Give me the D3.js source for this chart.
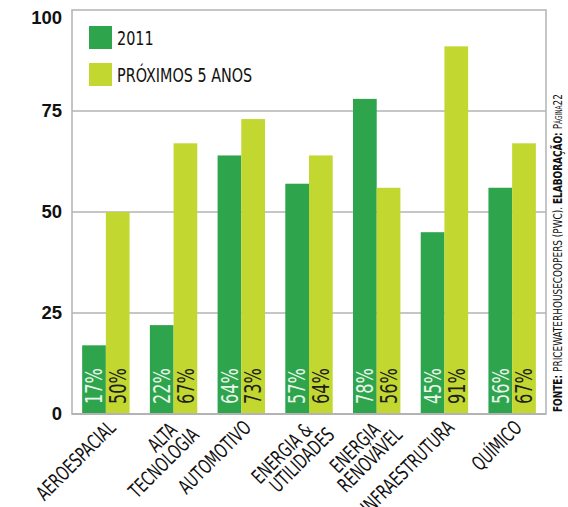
<!DOCTYPE html>
<html>
<head>
<meta charset="utf-8">
<script src="https://cdn.jsdelivr.net/npm/d3@7"></script>
<style>
  body { margin: 0; background: #fff; }
  svg { display: block; }
  .narrow { font-family: "Liberation Sans Narrow", "Arial Narrow", "DejaVu Sans Condensed", sans-serif; }
</style>
</head>
<body>
<svg id="chart" width="568" height="507"></svg>
<script>
// chart values
var categoryLines = [
  ["AEROESPACIAL"],
  ["ALTA", "TECNOLOGIA"],
  ["AUTOMOTIVO"],
  ["ENERGIA &", "UTILIDADES"],
  ["ENERGIA", "RENOVÁVEL"],
  ["INFRAESTRUTURA"],
  ["QUÍMICO"]
];
var values2011 = [17, 22, 64, 57, 78, 45, 56];
var valuesNext5 = [50, 67, 73, 64, 56, 91, 67];
var seriesNames = ["2011", "PRÓXIMOS 5 ANOS"];
var yTicks = [0, 25, 50, 75, 100];

var colors = ["#2ea44c", "#c2d730"];
var labelColors = ["#e9f5ea", "#1e1e1e"];
var gridColor = "#b3b3b3";
var squeeze = 0.76; // the original face is much narrower than what we have installed

var width = 568, height = 507;
var margin = { top: 10, right: 22, bottom: 93, left: 72 };

var svg = d3.select("#chart");

var x = d3.scaleBand()
  .domain(d3.range(categoryLines.length))
  .range([margin.left, width - margin.right])
  .paddingInner(0.3)
  .paddingOuter(0.15);

var xSub = d3.scaleBand()
  .domain([0, 1])
  .range([0, x.bandwidth()]);

var y = d3.scaleLinear()
  .domain([0, 100])
  .range([height - margin.bottom, margin.top]);

// gridlines and frame
svg.append("g")
  .selectAll("line")
  .data(yTicks.filter(function (d) { return d > 0 && d < 100; }))
  .join("line")
  .attr("x1", margin.left)
  .attr("x2", width - margin.right)
  .attr("y1", function (d) { return y(d); })
  .attr("y2", function (d) { return y(d); })
  .attr("stroke", gridColor)
  .attr("stroke-width", 1.5);

svg.append("rect")
  .attr("x", margin.left)
  .attr("y", margin.top)
  .attr("width", width - margin.left - margin.right)
  .attr("height", height - margin.top - margin.bottom)
  .attr("fill", "none")
  .attr("stroke", gridColor)
  .attr("stroke-width", 1.5);

// bars
var series = [values2011, valuesNext5];
var groups = svg.append("g")
  .selectAll("g")
  .data(categoryLines.map(function (c, i) { return i; }))
  .join("g")
  .attr("transform", function (i) { return "translate(" + x(i) + ",0)"; });

groups.selectAll("rect")
  .data(function (i) { return series.map(function (s, k) { return { k: k, v: s[i] }; }); })
  .join("rect")
  .attr("x", function (d) { return xSub(d.k); })
  .attr("y", function (d) { return y(d.v); })
  .attr("width", xSub.bandwidth())
  .attr("height", function (d) { return y(0) - y(d.v); })
  .attr("fill", function (d) { return colors[d.k]; });

// value labels inside bars
groups.selectAll("text")
  .data(function (i) { return series.map(function (s, k) { return { k: k, v: s[i] }; }); })
  .join("text")
  .attr("class", "narrow")
  .attr("transform", function (d) {
    return "translate(" + (xSub(d.k) + xSub.bandwidth() / 2) + "," + (y(0) - 10) + ") rotate(-90) scale(0.78,1)";
  })
  .attr("dy", "0.36em")
  .attr("font-size", 23)
  .attr("fill", function (d) { return labelColors[d.k]; })
  .text(function (d) { return d.v + "%"; });

// bottom axis line over bars
svg.append("line")
  .attr("x1", margin.left)
  .attr("x2", width - margin.right)
  .attr("y1", y(0))
  .attr("y2", y(0))
  .attr("stroke", gridColor)
  .attr("stroke-width", 2);

// y tick labels
svg.append("g")
  .selectAll("text")
  .data(yTicks)
  .join("text")
  .attr("x", margin.left - 10)
  .attr("y", function (d) { return Math.max(y(d), margin.top + 8); })
  .attr("dy", "0.3em")
  .attr("text-anchor", "end")
  .attr("font-family", "Liberation Sans, Arial, sans-serif")
  .attr("font-weight", "bold")
  .attr("font-size", 18.5)
  .attr("fill", "#111")
  .text(function (d) { return d; });

// category labels, rotated
var catLabels = svg.append("g")
  .selectAll("text")
  .data(categoryLines)
  .join("text")
  .attr("class", "narrow")
  .attr("font-size", 20)
  .attr("fill", "#111")
  .attr("text-anchor", "end")
  .attr("transform", function (d, i) {
    return "translate(" + (x(i) + x.bandwidth() / 2 + 11) + "," + (y(0) + 15) + ") rotate(-45) scale(" + squeeze + ",1)";
  });

catLabels.selectAll("tspan")
  .data(function (d) { return d.map(function (line, j) { return { line: line, j: j, n: d.length }; }); })
  .join("tspan")
  .attr("x", function (d) { return d.n > 1 ? (d.j === 0 ? -8 : 8) : 0; })
  .attr("y", function (d) { return d.n > 1 ? (d.j === 0 ? -3 : 16) : 0; })
  .text(function (d) { return d.line; });

// legend
var legend = svg.append("g")
  .selectAll("g")
  .data(seriesNames)
  .join("g")
  .attr("transform", function (d, i) { return "translate(89," + (26 + i * 37) + ")"; });

legend.append("rect")
  .attr("width", 23)
  .attr("height", 23)
  .attr("fill", function (d, i) { return colors[i]; });

legend.append("text")
  .attr("class", "narrow")
  .attr("transform", "translate(28,18.5) scale(0.82,1)")
  .attr("font-size", 19.5)
  .attr("fill", "#111")
  .text(function (d) { return d; });

// source note on the right
var note = svg.append("text")
  .attr("class", "narrow")
  .attr("transform", "translate(562," + (y(0) - 2) + ") rotate(-90)")
  .attr("font-size", 13)
  .attr("fill", "#111")
  .attr("textLength", 318)
  .attr("lengthAdjust", "spacingAndGlyphs");
note.append("tspan").attr("font-weight", "bold").text("FONTE: ");
note.append("tspan").text("PRICEWATERHOUSECOOPERS (PWC). ");
note.append("tspan").attr("font-weight", "bold").text("ELABORAÇÃO: ");
note.append("tspan").text("P");
note.append("tspan").attr("font-size", 8.5).text("ÁGINA");
note.append("tspan").text("22");
</script>
</body>
</html>
